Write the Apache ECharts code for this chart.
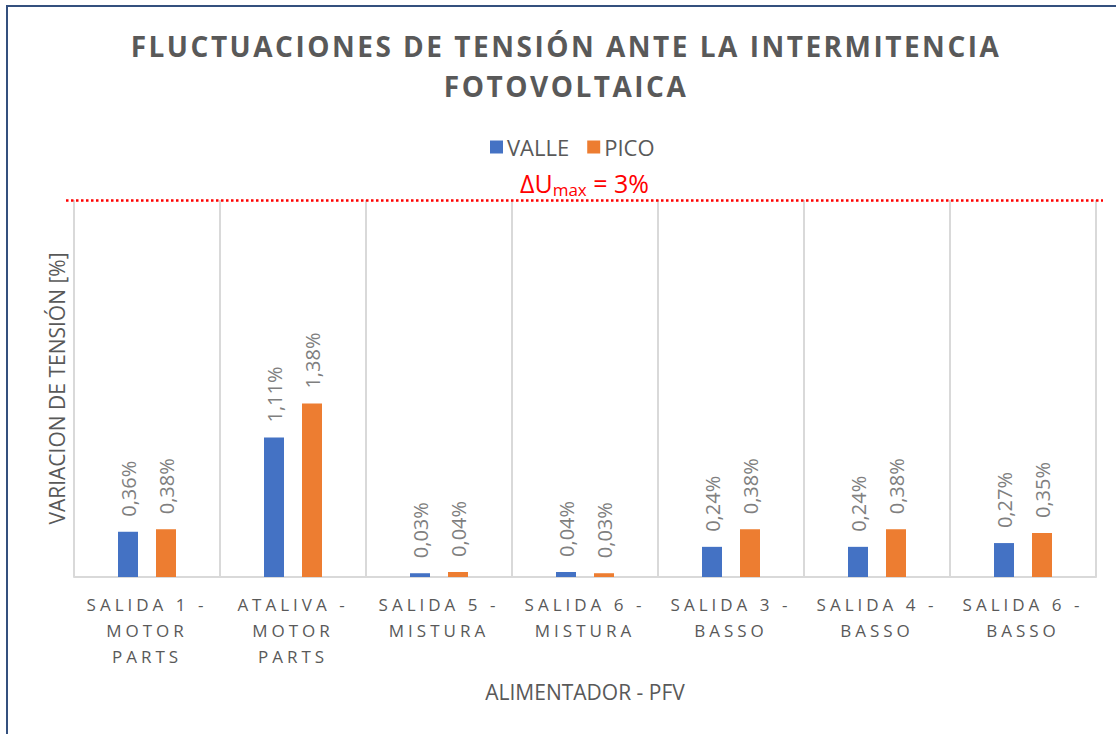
<!DOCTYPE html>
<html>
<head>
<meta charset="utf-8">
<script src="https://cdn.jsdelivr.net/npm/echarts@6/dist/echarts.min.js"></script>
<style>
  html, body { margin: 0; padding: 0; background: #ffffff; overflow: hidden; }
  #frame {
    position: absolute; left: 6px; top: 5px; width: 1110px; height: 729px;
    border-left: 2px solid #34507e; border-top: 2px solid #34507e; box-sizing: border-box;
  }
  #chart { position: absolute; left: 0; top: 0; width: 1116px; height: 734px; }
</style>
</head>
<body>
<div id="frame"></div>
<div id="chart"></div>
<script>
// Feeders (alimentadores) with their PV plant
const categories = [
  'SALIDA 1 -\nMOTOR\nPARTS',
  'ATALIVA -\nMOTOR\nPARTS',
  'SALIDA 5 -\nMISTURA',
  'SALIDA 6 -\nMISTURA',
  'SALIDA 3 -\nBASSO',
  'SALIDA 4 -\nBASSO',
  'SALIDA 6 -\nBASSO'
];
// Voltage variation [%] at valley and peak demand
const valle = [0.36, 1.11, 0.03, 0.04, 0.24, 0.24, 0.27];
const pico  = [0.38, 1.38, 0.04, 0.03, 0.38, 0.38, 0.35];
// Maximum admissible voltage variation [%]
const limiteMax = 3;
const yMax = 3;

const titleText = 'FLUCTUACIONES DE TENSIÓN ANTE LA INTERMITENCIA\nFOTOVOLTAICA';
const FONT = '"Open Sans", "Noto Sans", sans-serif';

const pct = v => v.toFixed(2).replace('.', ',') + '%';

const dataLabel = {
  show: true,
  position: 'top',
  rotate: 90,
  align: 'left',
  verticalAlign: 'middle',
  distance: 15,
  fontFamily: FONT,
  fontSize: 20,
  color: '#7f7f7f',
  formatter: p => pct(p.value)
};

const chart = echarts.init(document.getElementById('chart'), null, { renderer: 'svg' });

chart.setOption({
  animation: false,
  backgroundColor: 'transparent',
  title: {
    text: titleText,
    left: 566,
    top: 26,
    padding: 0,
    textAlign: 'center',
    textStyle: {
      fontFamily: FONT,
      fontWeight: 'bold',
      fontSize: 28,
      lineHeight: 40,
      color: '#595959'
    }
  },
  legend: {
    data: ['VALLE', 'PICO'],
    left: 490,
    top: 136,
    padding: 0,
    icon: 'rect',
    itemWidth: 13,
    itemHeight: 13,
    itemGap: 18,
    textStyle: { fontFamily: FONT, fontSize: 22, color: '#595959', padding: [0, 0, 0, -1] }
  },
  grid: { left: 74, right: 20, top: 200, bottom: 157, containLabel: false },
  xAxis: {
    type: 'category',
    data: categories,
    name: 'ALIMENTADOR - PFV',
    nameLocation: 'middle',
    nameGap: 104,
    nameTextStyle: { fontFamily: FONT, fontSize: 21, color: '#595959' },
    axisLine: { show: true, lineStyle: { color: '#d9d9d9', width: 2 } },
    axisTick: { show: false },
    axisLabel: {
      fontFamily: FONT,
      fontSize: 17,
      lineHeight: 26,
      color: '#595959',
      margin: 14,
      interval: 0
    },
    splitLine: { show: true, lineStyle: { color: '#d9d9d9', width: 2 } }
  },
  yAxis: {
    type: 'value',
    min: 0,
    max: yMax,
    name: 'VARIACION DE TENSIÓN [%]',
    nameLocation: 'middle',
    nameGap: 7,
    nameTextStyle: { fontFamily: FONT, fontSize: 21, color: '#595959' },
    axisLine: { show: false },
    axisTick: { show: false },
    axisLabel: { show: false },
    splitLine: { show: false }
  },
  series: [
    {
      name: 'VALLE',
      type: 'bar',
      data: valle,
      barWidth: 20,
      barGap: '90%',
      itemStyle: { color: '#4472c4' },
      label: dataLabel,
      markLine: {
        silent: true,
        symbol: 'none',
        lineStyle: { color: '#ff0000', width: 2.5, type: [2.5, 2.5] },
        label: {
          show: true,
          position: 'middle',
          distance: 2,
          formatter: '{a|ΔU}{b|max}{a| = ' + limiteMax + '%}',
          rich: {
            a: { fontFamily: FONT, fontSize: 25, color: '#ff0000', lineHeight: 30 },
            b: { fontFamily: FONT, fontSize: 17, color: '#ff0000', lineHeight: 12, verticalAlign: 'bottom' }
          }
        },
        data: [[{ yAxis: limiteMax, x: 66 }, { yAxis: limiteMax, x: 1103 }]]
      }
    },
    {
      name: 'PICO',
      type: 'bar',
      data: pico,
      barWidth: 20,
      barGap: '90%',
      itemStyle: { color: '#ed7d31' },
      label: dataLabel
    }
  ]
});

// Excel-style letter spacing for the title and the category labels
const spacing = new Map();
categories.forEach(c => c.split('\n').forEach(l => spacing.set(l, '4px')));
titleText.split('\n').forEach(l => spacing.set(l, '2.5px'));
function applySpacing() {
  document.querySelectorAll('#chart svg text').forEach(t => {
    const s = spacing.get(t.textContent);
    if (s) t.style.letterSpacing = s;
  });
}
applySpacing();
chart.on('finished', applySpacing);
chart.on('rendered', applySpacing);
</script>
</body>
</html>
